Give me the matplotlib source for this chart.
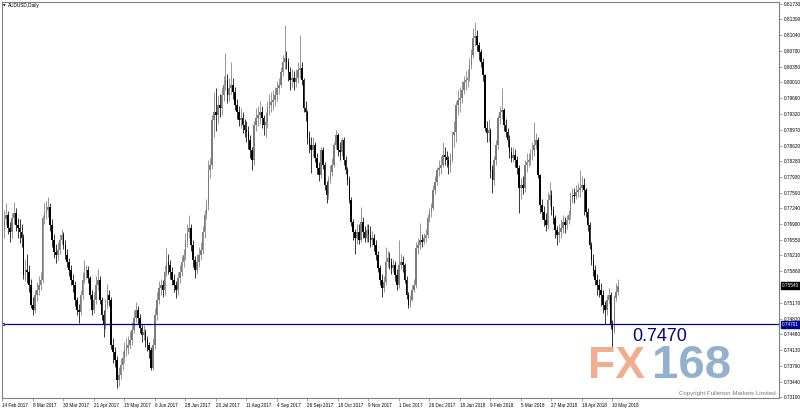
import matplotlib.pyplot as plt

# daily AUDUSD candles, 14 Feb 2017 .. 15 May 2018 (324 bars)
close = [
    0.7677, 0.7701, 0.7710, 0.7681, 0.7672, 0.7703, 0.7714, 0.7688, 0.7681, 0.7672, 0.7659, 0.7578, 0.7589, 0.7585, 0.7556, 0.7512,
    0.7501, 0.7534, 0.7545, 0.7556, 0.7567, 0.7703, 0.7714, 0.7721, 0.7727, 0.7688, 0.7655, 0.7629, 0.7622, 0.7633, 0.7655, 0.7666,
    0.7644, 0.7622, 0.7607, 0.7589, 0.7567, 0.7556, 0.7523, 0.7501, 0.7497, 0.7534, 0.7567, 0.7578, 0.7589, 0.7571, 0.7534, 0.7501,
    0.7523, 0.7556, 0.7567, 0.7523, 0.7490, 0.7468, 0.7512, 0.7534, 0.7523, 0.7424, 0.7409, 0.7391, 0.7347, 0.7358, 0.7380, 0.7396,
    0.7413, 0.7418, 0.7424, 0.7435, 0.7457, 0.7484, 0.7501, 0.7484, 0.7462, 0.7446, 0.7453, 0.7435, 0.7424, 0.7413, 0.7374, 0.7424,
    0.7490, 0.7523, 0.7549, 0.7556, 0.7545, 0.7585, 0.7607, 0.7600, 0.7585, 0.7567, 0.7556, 0.7545, 0.7571, 0.7585, 0.7607, 0.7622,
    0.7655, 0.7672, 0.7681, 0.7644, 0.7611, 0.7589, 0.7607, 0.7622, 0.7633, 0.7672, 0.7710, 0.7732, 0.7809, 0.7820, 0.7918, 0.7936,
    0.7929, 0.7951, 0.7944, 0.7973, 0.7995, 0.8006, 0.7973, 0.7989, 0.7995, 0.7980, 0.7951, 0.7936, 0.7918, 0.7923, 0.7907, 0.7896,
    0.7891, 0.7874, 0.7852, 0.7830, 0.7907, 0.7923, 0.7929, 0.7936, 0.7923, 0.7907, 0.7914, 0.7944, 0.7951, 0.7958, 0.7962, 0.7973,
    0.7989, 0.7995, 0.8024, 0.8046, 0.8055, 0.8046, 0.8024, 0.8006, 0.8011, 0.8002, 0.8011, 0.8028, 0.8033, 0.8006, 0.7944, 0.7936,
    0.7878, 0.7863, 0.7852, 0.7863, 0.7834, 0.7812, 0.7797, 0.7852, 0.7820, 0.7776, 0.7754, 0.7787, 0.7805, 0.7820, 0.7863, 0.7885,
    0.7852, 0.7848, 0.7874, 0.7830, 0.7809, 0.7787, 0.7743, 0.7694, 0.7672, 0.7659, 0.7672, 0.7655, 0.7694, 0.7672, 0.7659, 0.7677,
    0.7666, 0.7655, 0.7659, 0.7644, 0.7622, 0.7594, 0.7567, 0.7549, 0.7562, 0.7607, 0.7616, 0.7607, 0.7594, 0.7600, 0.7578, 0.7556,
    0.7600, 0.7607, 0.7600, 0.7567, 0.7534, 0.7512, 0.7523, 0.7545, 0.7556, 0.7638, 0.7644, 0.7655, 0.7651, 0.7659, 0.7666, 0.7703,
    0.7716, 0.7725, 0.7765, 0.7782, 0.7809, 0.7813, 0.7820, 0.7842, 0.7836, 0.7830, 0.7820, 0.7830, 0.7885, 0.7891, 0.7951, 0.7962,
    0.7966, 0.7984, 0.8002, 0.8006, 0.8011, 0.8039, 0.8061, 0.8098, 0.8102, 0.8083, 0.8068, 0.8046, 0.8017, 0.7901, 0.7889, 0.7896,
    0.7809, 0.7787, 0.7830, 0.7863, 0.7923, 0.7936, 0.7940, 0.7907, 0.7891, 0.7874, 0.7848, 0.7834, 0.7841, 0.7830, 0.7813, 0.7769,
    0.7776, 0.7769, 0.7820, 0.7827, 0.7830, 0.7841, 0.7852, 0.7863, 0.7874, 0.7797, 0.7732, 0.7716, 0.7699, 0.7688, 0.7743, 0.7754,
    0.7721, 0.7703, 0.7677, 0.7666, 0.7672, 0.7681, 0.7694, 0.7688, 0.7699, 0.7710, 0.7743, 0.7754, 0.7752, 0.7760, 0.7765, 0.7769,
    0.7776, 0.7765, 0.7716, 0.7688, 0.7644, 0.7611, 0.7589, 0.7567, 0.7556, 0.7545, 0.7534, 0.7512, 0.7501, 0.7523, 0.7534, 0.7468,
    0.7457, 0.7527, 0.7540, 0.7554,
]
high = [
    0.7700, 0.7720, 0.7735, 0.7718, 0.7695, 0.7715, 0.7738, 0.7725, 0.7702, 0.7700, 0.7690, 0.7668, 0.7612, 0.7625, 0.7600, 0.7570,
    0.7530, 0.7545, 0.7562, 0.7575, 0.7585, 0.7710, 0.7735, 0.7740, 0.7749, 0.7735, 0.7700, 0.7668, 0.7645, 0.7650, 0.7668, 0.7680,
    0.7672, 0.7655, 0.7635, 0.7615, 0.7600, 0.7580, 0.7565, 0.7530, 0.7515, 0.7545, 0.7585, 0.7611, 0.7600, 0.7598, 0.7575, 0.7545,
    0.7540, 0.7575, 0.7590, 0.7575, 0.7530, 0.7500, 0.7525, 0.7558, 0.7545, 0.7530, 0.7440, 0.7420, 0.7400, 0.7375, 0.7395, 0.7410,
    0.7430, 0.7440, 0.7445, 0.7455, 0.7475, 0.7500, 0.7518, 0.7510, 0.7492, 0.7470, 0.7468, 0.7460, 0.7445, 0.7430, 0.7420, 0.7440,
    0.7505, 0.7540, 0.7565, 0.7570, 0.7568, 0.7600, 0.7638, 0.7625, 0.7610, 0.7595, 0.7580, 0.7565, 0.7585, 0.7600, 0.7620, 0.7635,
    0.7670, 0.7690, 0.7709, 0.7690, 0.7655, 0.7620, 0.7625, 0.7640, 0.7650, 0.7685, 0.7720, 0.7745, 0.7830, 0.7835, 0.7930, 0.7980,
    0.7989, 0.7970, 0.7975, 0.7990, 0.8015, 0.8065, 0.8020, 0.8010, 0.8045, 0.8010, 0.7990, 0.7965, 0.7950, 0.7945, 0.7935, 0.7920,
    0.7915, 0.7905, 0.7885, 0.7860, 0.7915, 0.7945, 0.7950, 0.7960, 0.7950, 0.7930, 0.7935, 0.7960, 0.7975, 0.7980, 0.7985, 0.7990,
    0.8005, 0.8010, 0.8035, 0.8060, 0.8127, 0.8070, 0.8055, 0.8035, 0.8030, 0.8025, 0.8030, 0.8045, 0.8105, 0.8045, 0.8010, 0.7960,
    0.7940, 0.7895, 0.7880, 0.7880, 0.7870, 0.7845, 0.7825, 0.7860, 0.7860, 0.7825, 0.7785, 0.7795, 0.7820, 0.7835, 0.7870, 0.7896,
    0.7890, 0.7870, 0.7882, 0.7880, 0.7840, 0.7815, 0.7795, 0.7750, 0.7700, 0.7680, 0.7690, 0.7690, 0.7727, 0.7705, 0.7685, 0.7690,
    0.7690, 0.7685, 0.7675, 0.7668, 0.7655, 0.7630, 0.7600, 0.7580, 0.7575, 0.7640, 0.7630, 0.7628, 0.7615, 0.7612, 0.7608, 0.7590,
    0.7655, 0.7625, 0.7620, 0.7605, 0.7575, 0.7540, 0.7535, 0.7555, 0.7570, 0.7650, 0.7660, 0.7692, 0.7668, 0.7670, 0.7680, 0.7712,
    0.7725, 0.7735, 0.7775, 0.7795, 0.7815, 0.7830, 0.7840, 0.7871, 0.7860, 0.7850, 0.7840, 0.7845, 0.7895, 0.7915, 0.7960, 0.7985,
    0.7990, 0.8005, 0.8015, 0.8025, 0.8030, 0.8055, 0.8075, 0.8120, 0.8133, 0.8115, 0.8090, 0.8075, 0.8055, 0.8020, 0.7915, 0.7920,
    0.7900, 0.7820, 0.7840, 0.7875, 0.7930, 0.7950, 0.7989, 0.7945, 0.7920, 0.7900, 0.7885, 0.7860, 0.7860, 0.7855, 0.7840, 0.7820,
    0.7790, 0.7795, 0.7830, 0.7845, 0.7845, 0.7855, 0.7870, 0.7914, 0.7890, 0.7880, 0.7800, 0.7745, 0.7730, 0.7715, 0.7760, 0.7782,
    0.7765, 0.7730, 0.7710, 0.7685, 0.7690, 0.7700, 0.7710, 0.7705, 0.7710, 0.7720, 0.7760, 0.7770, 0.7770, 0.7775, 0.7780, 0.7809,
    0.7795, 0.7790, 0.7770, 0.7725, 0.7695, 0.7650, 0.7625, 0.7600, 0.7580, 0.7570, 0.7560, 0.7545, 0.7520, 0.7535, 0.7550, 0.7540,
    0.7480, 0.7535, 0.7560, 0.7570,
]
low = [
    0.7620, 0.7660, 0.7688, 0.7668, 0.7650, 0.7660, 0.7690, 0.7675, 0.7660, 0.7648, 0.7640, 0.7570, 0.7565, 0.7560, 0.7540, 0.7505,
    0.7491, 0.7495, 0.7520, 0.7535, 0.7545, 0.7560, 0.7690, 0.7700, 0.7705, 0.7675, 0.7640, 0.7615, 0.7605, 0.7610, 0.7625, 0.7645,
    0.7635, 0.7612, 0.7595, 0.7575, 0.7555, 0.7540, 0.7510, 0.7490, 0.7473, 0.7490, 0.7525, 0.7560, 0.7570, 0.7560, 0.7525, 0.7490,
    0.7495, 0.7515, 0.7545, 0.7515, 0.7480, 0.7442, 0.7460, 0.7505, 0.7510, 0.7415, 0.7385, 0.7375, 0.7330, 0.7335, 0.7350, 0.7370,
    0.7385, 0.7400, 0.7405, 0.7415, 0.7425, 0.7450, 0.7475, 0.7470, 0.7450, 0.7430, 0.7435, 0.7420, 0.7410, 0.7395, 0.7369, 0.7370,
    0.7415, 0.7480, 0.7515, 0.7535, 0.7530, 0.7535, 0.7575, 0.7580, 0.7570, 0.7555, 0.7540, 0.7528, 0.7535, 0.7560, 0.7575, 0.7595,
    0.7610, 0.7640, 0.7660, 0.7630, 0.7595, 0.7571, 0.7580, 0.7595, 0.7610, 0.7625, 0.7660, 0.7700, 0.7720, 0.7790, 0.7810, 0.7880,
    0.7895, 0.7910, 0.7925, 0.7930, 0.7960, 0.7985, 0.7955, 0.7960, 0.7975, 0.7965, 0.7940, 0.7920, 0.7905, 0.7900, 0.7890, 0.7880,
    0.7870, 0.7855, 0.7835, 0.7808, 0.7820, 0.7895, 0.7905, 0.7910, 0.7900, 0.7885, 0.7880, 0.7900, 0.7930, 0.7935, 0.7940, 0.7950,
    0.7960, 0.7975, 0.7990, 0.8015, 0.8030, 0.8030, 0.8005, 0.7985, 0.7990, 0.7985, 0.7990, 0.8000, 0.8010, 0.7995, 0.7935, 0.7915,
    0.7865, 0.7845, 0.7802, 0.7840, 0.7825, 0.7800, 0.7785, 0.7790, 0.7810, 0.7765, 0.7736, 0.7745, 0.7780, 0.7795, 0.7815, 0.7855,
    0.7840, 0.7830, 0.7840, 0.7820, 0.7800, 0.7775, 0.7735, 0.7685, 0.7655, 0.7625, 0.7645, 0.7645, 0.7650, 0.7660, 0.7650, 0.7650,
    0.7650, 0.7640, 0.7642, 0.7630, 0.7610, 0.7585, 0.7555, 0.7530, 0.7540, 0.7555, 0.7595, 0.7590, 0.7580, 0.7585, 0.7565, 0.7545,
    0.7550, 0.7590, 0.7585, 0.7560, 0.7525, 0.7505, 0.7508, 0.7520, 0.7540, 0.7550, 0.7625, 0.7635, 0.7640, 0.7645, 0.7650, 0.7660,
    0.7695, 0.7705, 0.7720, 0.7755, 0.7775, 0.7795, 0.7800, 0.7815, 0.7820, 0.7815, 0.7800, 0.7805, 0.7825, 0.7860, 0.7870, 0.7930,
    0.7935, 0.7955, 0.7975, 0.7985, 0.7990, 0.8005, 0.8030, 0.8055, 0.8080, 0.8070, 0.8050, 0.8035, 0.8005, 0.7895, 0.7870, 0.7870,
    0.7790, 0.7758, 0.7775, 0.7820, 0.7855, 0.7910, 0.7920, 0.7895, 0.7880, 0.7860, 0.7835, 0.7825, 0.7825, 0.7815, 0.7800, 0.7714,
    0.7745, 0.7755, 0.7760, 0.7805, 0.7815, 0.7820, 0.7830, 0.7840, 0.7855, 0.7790, 0.7715, 0.7700, 0.7685, 0.7675, 0.7680, 0.7730,
    0.7710, 0.7690, 0.7660, 0.7644, 0.7650, 0.7660, 0.7670, 0.7670, 0.7680, 0.7690, 0.7700, 0.7735, 0.7735, 0.7745, 0.7750, 0.7750,
    0.7760, 0.7710, 0.7705, 0.7675, 0.7635, 0.7600, 0.7575, 0.7555, 0.7535, 0.7530, 0.7510, 0.7495, 0.7470, 0.7490, 0.7515, 0.7460,
    0.7413, 0.7450, 0.7520, 0.7535,
]
first_open = 0.7652

date_labels = ['14 Feb 2017', '8 Mar 2017', '30 Mar 2017', '21 Apr 2017', '15 May 2017', '6 Jun 2017',
               '28 Jun 2017', '20 Jul 2017', '11 Aug 2017', '4 Sep 2017', '26 Sep 2017', '18 Oct 2017',
               '9 Nov 2017', '1 Dec 2017', '26 Dec 2017', '18 Jan 2018', '9 Feb 2018', '5 Mar 2018',
               '27 Mar 2018', '18 Apr 2018', '10 May 2018']
price_labels = ['0.81730', '0.81390', '0.81040', '0.80700', '0.80350', '0.80010', '0.79660', '0.79320',
                '0.78970', '0.78620', '0.78280', '0.77930', '0.77590', '0.77240', '0.76900', '0.76550',
                '0.76210', '0.75860', '0.75170', '0.74820', '0.74480', '0.74130', '0.73790',
                '0.73440', '0.73100']
line_level = 0.74701
last_price = 0.75540

# FX daily open = previous close
opens = [first_open] + close[:-1]
n = len(close)
xs = list(range(n))
cols = ['#7c7c7c' if c >= o else '#000000' for o, c in zip(opens, close)]
bottoms = [min(o, c) for o, c in zip(opens, close)]
heights = [max(abs(c - o), 0.00006) for o, c in zip(opens, close)]

font = ['Liberation Sans', 'DejaVu Sans']
plt.rcParams['font.family'] = font

fig = plt.figure(figsize=(8, 4.09), dpi=100)
ax = fig.add_axes([2 / 800, 11 / 409, 777 / 800, 396 / 409])

ax.vlines(xs, low, high, colors=cols, linewidth=0.55)
ax.bar(xs, heights, bottom=bottoms, width=0.85, color=cols, linewidth=0)

px_bar = 1.906
ax.set_xlim(-0.26, -0.26 + 777 / px_bar)
ax.set_ylim(0.73078, 0.81774)

ax.set_xticks([16 * i for i in range(len(date_labels))])
ax.set_xticklabels(date_labels, ha='left', fontsize=3.3)
ax.set_yticks([float(s) for s in price_labels])
ax.set_yticklabels(price_labels, fontsize=3.4)
ax.yaxis.tick_right()
ax.tick_params(axis='both', length=2.5, width=0.5, color='#808080', pad=1.2)
for sp in ax.spines.values():
    sp.set_color('#808080')
    sp.set_linewidth(0.8)

# horizontal level line
ax.axhline(line_level, color='#000090', linewidth=0.9)
ax.plot([0.3], [line_level], marker='s', ms=2, mfc='white', mec='#000090', mew=0.6, clip_on=False)
ytf = ax.get_yaxis_transform()
ax.text(1.004, line_level, '0.74701', transform=ytf, fontsize=3.4, color='white', va='center', ha='left',
        bbox=dict(boxstyle='square,pad=0.2', fc='#000090', ec='#000090'))
ax.text(1.004, last_price, '0.75540', transform=ytf, fontsize=3.4, color='white', va='center', ha='left',
        bbox=dict(boxstyle='square,pad=0.2', fc='black', ec='black'))

fig.text(3 / 800, 1 - 6 / 409, '\u25bc', fontsize=2.5, va='center', family=['DejaVu Sans'])
fig.text(8 / 800, 1 - 6 / 409, 'AUDUSD,Daily', fontsize=3.4, va='center')

fig.text(632 / 800, 1 - 341 / 409, '0.7470', fontsize=13, color='#000080', va='baseline')
fig.text(588 / 800, 1 - 378 / 409, 'FX', fontsize=32, weight='bold', color='#f2ad90', va='baseline')
fig.text(652 / 800, 1 - 378 / 409, '168', fontsize=34, weight='bold', color='#93b1cc', va='baseline')
fig.text(776 / 800, 1 - 393 / 409, 'Copyright Fullerton Markets Limited', fontsize=4.4,
         color='#7a7a7a', ha='right', va='center')

fig.savefig('out.png', dpi=100)
